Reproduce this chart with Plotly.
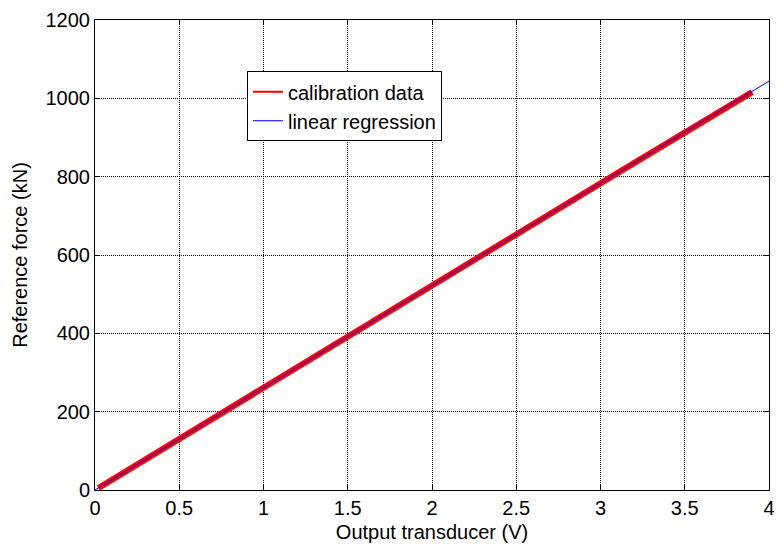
import plotly.graph_objects as go

# Calibration data
volts = [0.02, 0.1, 0.2, 0.3, 0.4, 0.5, 0.6, 0.7, 0.8, 0.9, 1.0, 1.1, 1.2, 1.3, 1.4,
         1.5, 1.6, 1.7, 1.8, 1.9, 2.0, 2.1, 2.2, 2.3, 2.4, 2.5, 2.6, 2.7, 2.8, 2.9,
         3.0, 3.1, 3.2, 3.3, 3.4, 3.5, 3.6, 3.7, 3.8, 3.9]
force = [5, 26, 52, 79, 104, 130, 157, 183, 209, 235, 261, 287, 313, 340, 365,
         392, 418, 444, 470, 496, 522, 548, 574, 600, 627, 652, 679, 705, 731, 757,
         783, 809, 835, 861, 887, 914, 940, 966, 992, 1016]

# Linear regression
slope = 261.0
intercept = 0.0
reg_x = [0, 4]
reg_y = [intercept + slope * v for v in reg_x]

x_ticks = [0, 0.5, 1, 1.5, 2, 2.5, 3, 3.5, 4]
y_ticks = [0, 200, 400, 600, 800, 1000, 1200]

FONT = "Liberation Sans, Arial, sans-serif"
FS = 20

fig = go.Figure()
fig.add_trace(go.Scatter(x=volts, y=force, mode="lines", showlegend=False,
                         line=dict(color="#ff0000", width=6)))
fig.add_trace(go.Scatter(x=[None], y=[None], mode="lines", name="calibration data",
                         line=dict(color="#ff0000", width=2)))
fig.add_trace(go.Scatter(x=reg_x, y=reg_y, mode="lines", name="linear regression",
                         line=dict(color="#0000ff", width=1)))

axis_common = dict(showline=True, linecolor="black", linewidth=1, mirror="ticks",
                   ticks="inside", ticklen=5, tickcolor="black",
                   showgrid=True, gridcolor="black", griddash="1px,1px", gridwidth=1,
                   zeroline=False, tickfont=dict(size=FS, color="black", family=FONT))

fig.update_xaxes(range=[0, 4], tickvals=x_ticks, ticktext=[str(t) for t in x_ticks],
                 title=dict(text="Output transducer (V)", font=dict(size=FS, color="black", family=FONT),
                            standoff=6), **axis_common)
fig.update_yaxes(range=[0, 1200], tickvals=y_ticks,
                 title=dict(text="Reference force (kN)", font=dict(size=FS, color="black", family=FONT),
                            standoff=12), **axis_common)

fig.update_layout(
    width=778, height=550,
    margin=dict(l=95, r=9, t=20, b=60, autoexpand=False),
    paper_bgcolor="white", plot_bgcolor="white",
    font=dict(family=FONT, size=FS, color="black"),
    legend=dict(x=0.2255, y=0.891, xanchor="left", yanchor="top",
                bgcolor="white", bordercolor="black", borderwidth=1,
                font=dict(size=FS, color="black", family=FONT),
                tracegroupgap=0),
)

fig.write_html("out.html", config={"displayModeBar": False},
               post_script="document.body.style.margin='0';document.body.style.overflow='hidden';")
